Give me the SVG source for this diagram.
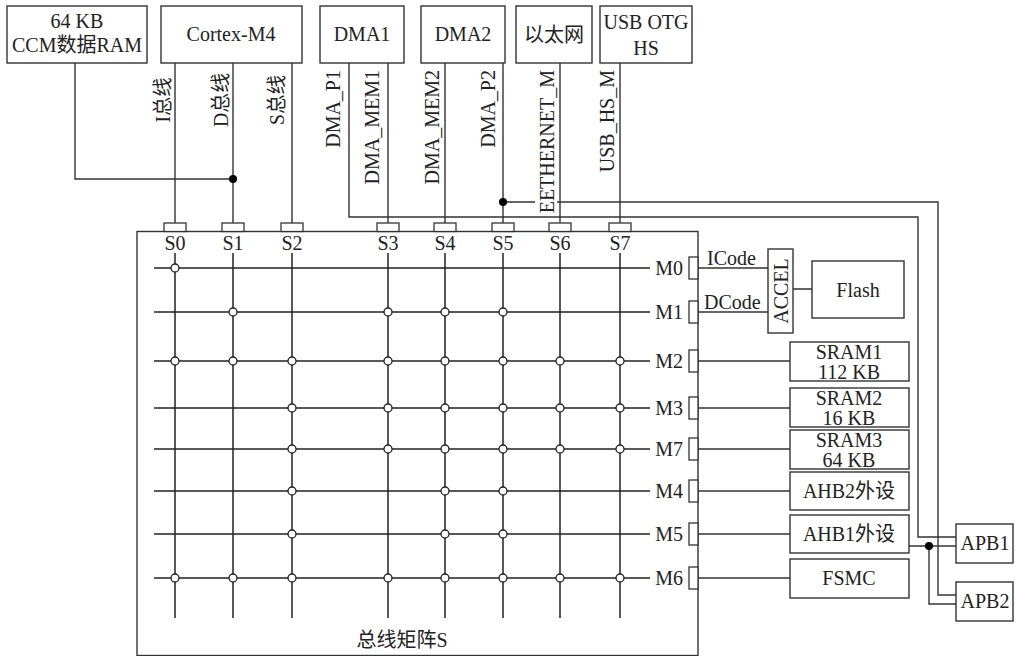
<svg xmlns="http://www.w3.org/2000/svg" width="1017" height="656" viewBox="0 0 1017 656">
<style>
.b{fill:#fff;stroke:#333;stroke-width:1.4}
.p{fill:#fff;stroke:#333;stroke-width:1.3}
.l{fill:none;stroke:#333;stroke-width:1.4}
.g{fill:none;stroke:#222;stroke-width:1.5}
.c{fill:#fff;stroke:#222;stroke-width:1.3}
.d{fill:#000}
text{font-family:"Liberation Serif","Noto Sans CJK SC",serif;font-size:20px;fill:#222}
.m{text-anchor:middle}
.e{text-anchor:end}
</style>
<rect width="1017" height="656" fill="#fff"/>

<g id="matrix">
<rect class="b" x="137" y="231.5" width="561" height="424"/>
<text class="m" x="402" y="647">总线矩阵S</text>
</g>

<g id="ports">
<rect class="p" x="164" y="223" width="22" height="8.5"/>
<rect class="p" x="222" y="223" width="22" height="8.5"/>
<rect class="p" x="281" y="223" width="22" height="8.5"/>
<rect class="p" x="377" y="223" width="22" height="8.5"/>
<rect class="p" x="434" y="223" width="22" height="8.5"/>
<rect class="p" x="492" y="223" width="22" height="8.5"/>
<rect class="p" x="549" y="223" width="22" height="8.5"/>
<rect class="p" x="609" y="223" width="22" height="8.5"/>
<rect class="p" x="689" y="257" width="9" height="22"/>
<rect class="p" x="689" y="301" width="9" height="22"/>
<rect class="p" x="689" y="350" width="9" height="22"/>
<rect class="p" x="689" y="397" width="9" height="22"/>
<rect class="p" x="689" y="438" width="9" height="22"/>
<rect class="p" x="689" y="480" width="9" height="22"/>
<rect class="p" x="689" y="523" width="9" height="22"/>
<rect class="p" x="689" y="567" width="9" height="22"/>
<text class="m" x="175" y="250">S0</text>
<text class="m" x="233" y="250">S1</text>
<text class="m" x="292" y="250">S2</text>
<text class="m" x="388" y="250">S3</text>
<text class="m" x="445" y="250">S4</text>
<text class="m" x="503" y="250">S5</text>
<text class="m" x="560" y="250">S6</text>
<text class="m" x="620" y="250">S7</text>
<text class="e" x="683" y="275">M0</text>
<text class="e" x="683" y="319">M1</text>
<text class="e" x="683" y="368">M2</text>
<text class="e" x="683" y="415">M3</text>
<text class="e" x="683" y="456">M7</text>
<text class="e" x="683" y="498">M4</text>
<text class="e" x="683" y="541">M5</text>
<text class="e" x="683" y="585">M6</text>
</g>

<g id="grid">
<path class="g" d="M154 268H650M154 312H650M154 361H650M154 408H650M154 449H650M154 491H650M154 534H650M154 578H650"/>
<path class="g" d="M175 253V618M233 253V618M292 253V618M388 253V618M445 253V618M503 253V618M560 253V618M620 253V618"/>
<g id="switches">
<circle class="c" cx="175" cy="268" r="4"/>
<circle class="c" cx="233" cy="312" r="4"/>
<circle class="c" cx="388" cy="312" r="4"/>
<circle class="c" cx="445" cy="312" r="4"/>
<circle class="c" cx="503" cy="312" r="4"/>
<circle class="c" cx="175" cy="361" r="4"/>
<circle class="c" cx="233" cy="361" r="4"/>
<circle class="c" cx="292" cy="361" r="4"/>
<circle class="c" cx="388" cy="361" r="4"/>
<circle class="c" cx="445" cy="361" r="4"/>
<circle class="c" cx="503" cy="361" r="4"/>
<circle class="c" cx="560" cy="361" r="4"/>
<circle class="c" cx="620" cy="361" r="4"/>
<circle class="c" cx="292" cy="408" r="4"/>
<circle class="c" cx="388" cy="408" r="4"/>
<circle class="c" cx="445" cy="408" r="4"/>
<circle class="c" cx="503" cy="408" r="4"/>
<circle class="c" cx="560" cy="408" r="4"/>
<circle class="c" cx="620" cy="408" r="4"/>
<circle class="c" cx="292" cy="449" r="4"/>
<circle class="c" cx="388" cy="449" r="4"/>
<circle class="c" cx="445" cy="449" r="4"/>
<circle class="c" cx="503" cy="449" r="4"/>
<circle class="c" cx="560" cy="449" r="4"/>
<circle class="c" cx="620" cy="449" r="4"/>
<circle class="c" cx="292" cy="491" r="4"/>
<circle class="c" cx="445" cy="491" r="4"/>
<circle class="c" cx="503" cy="491" r="4"/>
<circle class="c" cx="292" cy="534" r="4"/>
<circle class="c" cx="445" cy="534" r="4"/>
<circle class="c" cx="503" cy="534" r="4"/>
<circle class="c" cx="175" cy="578" r="4"/>
<circle class="c" cx="233" cy="578" r="4"/>
<circle class="c" cx="292" cy="578" r="4"/>
<circle class="c" cx="388" cy="578" r="4"/>
<circle class="c" cx="445" cy="578" r="4"/>
<circle class="c" cx="503" cy="578" r="4"/>
<circle class="c" cx="560" cy="578" r="4"/>
<circle class="c" cx="620" cy="578" r="4"/>
</g>
</g>

<g id="connectors">
<path class="l" d="M75 63V179H233"/>
<path class="l" d="M175 63V223M233 63V223M292 63V223M388 63V223M445 63V223M503 63V223M560 63V223M620 63V223"/>
<path class="l" d="M349 63V217H918V537H956"/>
<path class="l" d="M503 202H535M557 202H938V595H956"/>
<path class="l" d="M698 268H768M698 312H768M793 289H812"/>
<path class="l" d="M698 361H790M698 408H790M698 449H790M698 491H790M698 534H790M698 578H790"/>
<path class="l" d="M909 546H956M929 546V604H956"/>
<circle class="d" cx="233" cy="179" r="4"/>
<circle class="d" cx="503" cy="202" r="4"/>
<circle class="d" cx="929" cy="546" r="4"/>
<text x="707" y="265">ICode</text>
<text x="704" y="309">DCode</text>
</g>

<g id="bus-labels">
<text class="m" transform="translate(170,100) rotate(-90)" font-size="17" textLength="45" lengthAdjust="spacingAndGlyphs">I总线</text>
<text class="m" transform="translate(228,100) rotate(-90)" font-size="17" textLength="54" lengthAdjust="spacingAndGlyphs">D总线</text>
<text class="m" transform="translate(284,100) rotate(-90)" font-size="17" textLength="50" lengthAdjust="spacingAndGlyphs">S总线</text>
<text class="e" transform="translate(340,70) rotate(-90)">DMA_P1</text>
<text class="e" transform="translate(379,70) rotate(-90)">DMA_MEM1</text>
<text class="e" transform="translate(439,70) rotate(-90)">DMA_MEM2</text>
<text class="e" transform="translate(495,70) rotate(-90)">DMA_P2</text>
<text class="e" transform="translate(554,70) rotate(-90)">EETHERNET_M</text>
<text class="e" transform="translate(614,70) rotate(-90)">USB_HS_M</text>
</g>

<g id="ccm">
<rect class="b" x="7" y="6" width="140" height="57"/>
<text class="m" x="77" y="28">64 KB</text>
<text class="m" x="77" y="52">CCM数据RAM</text>
</g>
<g id="cortex">
<rect class="b" x="161" y="6" width="141" height="57"/>
<text class="m" x="231" y="41">Cortex-M4</text>
</g>
<g id="dma1">
<rect class="b" x="320" y="6" width="84" height="57"/>
<text class="m" x="362" y="41">DMA1</text>
</g>
<g id="dma2">
<rect class="b" x="421" y="6" width="84" height="57"/>
<text class="m" x="463" y="41">DMA2</text>
</g>
<g id="ethernet">
<rect class="b" x="516" y="6" width="76" height="57"/>
<text class="m" x="554" y="42">以太网</text>
</g>
<g id="usb">
<rect class="b" x="600" y="6" width="92" height="57"/>
<text class="m" x="646" y="29">USB OTG</text>
<text class="m" x="646" y="55">HS</text>
</g>

<g id="accel">
<rect class="b" x="768" y="249" width="25" height="84"/>
<text class="m" transform="translate(788,291) rotate(-90)">ACCEL</text>
</g>
<g id="flash">
<rect class="b" x="812" y="261" width="92" height="57"/>
<text class="m" x="858" y="297">Flash</text>
</g>
<g id="sram1">
<rect class="b" x="790" y="342" width="119" height="39"/>
<text class="m" x="849" y="359">SRAM1</text>
<text class="m" x="849" y="379">112 KB</text>
</g>
<g id="sram2">
<rect class="b" x="790" y="388" width="119" height="39"/>
<text class="m" x="849" y="405">SRAM2</text>
<text class="m" x="849" y="425">16 KB</text>
</g>
<g id="sram3">
<rect class="b" x="790" y="430" width="119" height="39"/>
<text class="m" x="849" y="447">SRAM3</text>
<text class="m" x="849" y="467">64 KB</text>
</g>
<g id="ahb2">
<rect class="b" x="790" y="472" width="119" height="38"/>
<text class="m" x="849" y="498">AHB2外设</text>
</g>
<g id="ahb1">
<rect class="b" x="790" y="515" width="119" height="38"/>
<text class="m" x="849" y="541">AHB1外设</text>
</g>
<g id="fsmc">
<rect class="b" x="790" y="559" width="119" height="39"/>
<text class="m" x="849" y="585">FSMC</text>
</g>
<g id="apb1">
<rect class="b" x="956" y="524" width="57" height="39"/>
<text class="m" x="985" y="550">APB1</text>
</g>
<g id="apb2">
<rect class="b" x="956" y="582" width="57" height="39"/>
<text class="m" x="985" y="608">APB2</text>
</g>
</svg>
